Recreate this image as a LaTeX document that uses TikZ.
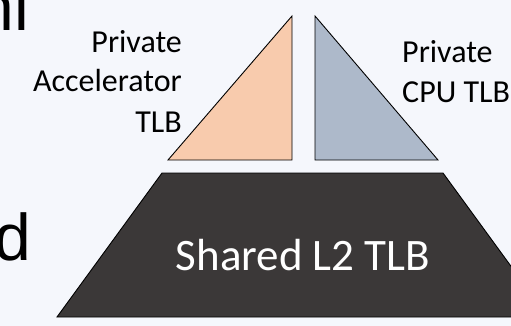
\documentclass[tikz,border=0pt]{standalone}
\usepackage{fontspec}
\setmainfont{Carlito}
\newfontfamily\slidefont{Liberation Sans}
\usepackage{xcolor}
\usetikzlibrary{positioning,calc}
\definecolor{tlborange}{HTML}{F8CBAD}
\definecolor{tlbblue}{HTML}{ADB9CA}
\definecolor{tlbdark}{HTML}{3B3838}
\definecolor{tlbback}{HTML}{F5F7FC}

\begin{document}
\begin{tikzpicture}[
    x=1pt,y=-1pt,
    pri/.style = {draw=black,line width=0.9pt,line join=miter},
    lab/.style = {font=\fontsize{32}{40}\selectfont,inner sep=0pt},
    big/.style = {font=\fontsize{45}{50}\selectfont,text=white,inner sep=0pt},
    cut/.style = {font=\slidefont\fontsize{66}{70}\selectfont,inner sep=0pt},
  ]

  % fond et cadre
  \fill[tlbback] (0,0) rectangle (511,326);
  \useasboundingbox (0,0) rectangle (511,326);

  % texte coupé au bord gauche
  \node[cut,anchor=base east] (cutnl) at (29.4,31) {nl};
  \node[cut,anchor=base east] (cutd)  at (31.7,260) {d};

  % TLB privés
  \filldraw[pri,fill=tlborange] (168,160) -- (292,16) -- (292,160) -- cycle;
  \filldraw[pri,fill=tlbblue]   (315,16) -- (315,160) -- (438,160) -- cycle;
  \node[lab,anchor=base east,align=right] (acclab) at (182,132) {Private\\Accelerator\\TLB};
  \node[lab,anchor=base west,align=left]  (cpulab) at (402,103) {Private\\CPU TLB};

  % TLB L2 partagé
  \filldraw[pri,fill=tlbdark] (162,173) -- (443,173) -- (548,317) -- (57,317) -- cycle;
  \node[big,anchor=base] (l2lab) at (303,270) {Shared L2 TLB};

\end{tikzpicture}
\end{document}
